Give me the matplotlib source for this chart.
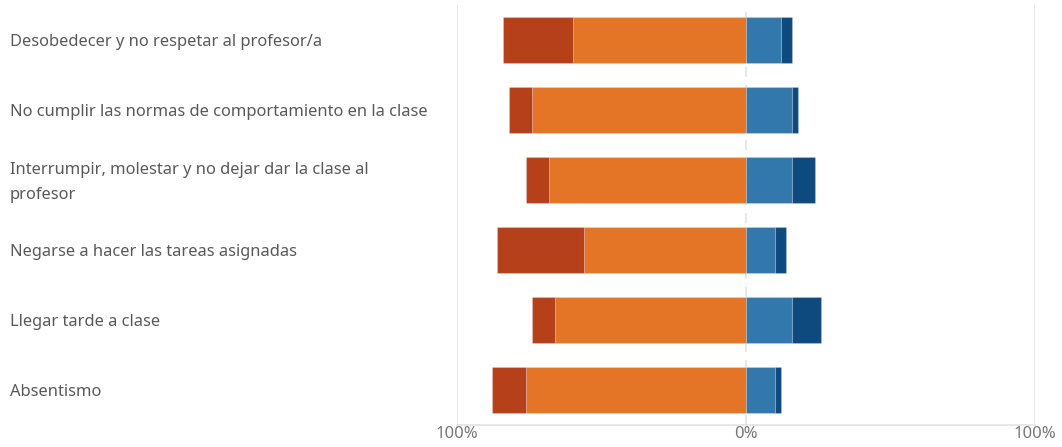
import matplotlib
matplotlib.use("Agg")
import matplotlib.pyplot as plt
from matplotlib.ticker import FuncFormatter

categories = [
    "Desobedecer y no respetar al profesor/a",
    "No cumplir las normas de comportamiento en la clase",
    "Interrumpir, molestar y no dejar dar la clase al\nprofesor",
    "Negarse a hacer las tareas asignadas",
    "Llegar tarde a clase",
    "Absentismo",
]
# percentages: strongly negative, negative, positive, strongly positive
strong_neg = [24, 8, 8, 30, 8, 12]
neg = [60, 74, 68, 56, 66, 76]
pos = [12, 16, 16, 10, 16, 10]
strong_pos = [4, 2, 8, 4, 10, 2]
tick_values = [-100, 0, 100]

c_strong_neg = "#B5401A"
c_neg = "#E57526"
c_pos = "#3378AC"
c_strong_pos = "#0E4A7E"

plt.rcParams['font.family'] = ['Noto Sans', 'DejaVu Sans']

fig = plt.figure(figsize=(10.62, 4.47), dpi=100)
ax = fig.add_axes([457/1062, 1-425/447, (1035-457)/1062, 420/447])

y = list(range(len(categories)))
h = 0.67
ec = (1, 1, 1, 0.2)
ax.barh(y, [-v for v in neg], height=h, color=c_neg, edgecolor=ec, linewidth=0.8, zorder=3)
ax.barh(y, [-v for v in strong_neg], left=[-v for v in neg], height=h, color=c_strong_neg, edgecolor=ec, linewidth=0.8, zorder=3)
ax.barh(y, pos, height=h, color=c_pos, edgecolor=ec, linewidth=0.8, zorder=3)
ax.barh(y, strong_pos, left=pos, height=h, color=c_strong_pos, edgecolor=ec, linewidth=0.8, zorder=3)

ax.set_xlim(-100, 100)
ax.set_ylim(len(categories) - 0.5, -0.5)

ax.axvline(-100, color="#E3E3E3", lw=1.2, zorder=1)
ax.axvline(100, color="#E3E3E3", lw=1.2, zorder=1)
ax.axvline(0, color="#E3E3E3", lw=1.2, ls=(0, (6, 5)), zorder=1)

for s in ["top", "left", "right"]:
    ax.spines[s].set_visible(False)
ax.spines["bottom"].set_color("#E3E3E3")
ax.spines["bottom"].set_linewidth(1.2)

ax.set_xticks(tick_values)
ax.xaxis.set_major_formatter(FuncFormatter(lambda v, p: f"{abs(int(v))}%"))
ax.tick_params(axis="x", length=0, pad=1, labelsize=12, labelcolor="#777777")
ax.set_yticks([])

for i, lab in enumerate(categories):
    yc = ax.transData.transform((0, i))[1] - 2.5
    fig.text(10/1062, yc/447, lab, ha="left", va="center", fontsize=11.85,
             color="#595959", linespacing=1.75)

fig.savefig("out.png", dpi=100)
